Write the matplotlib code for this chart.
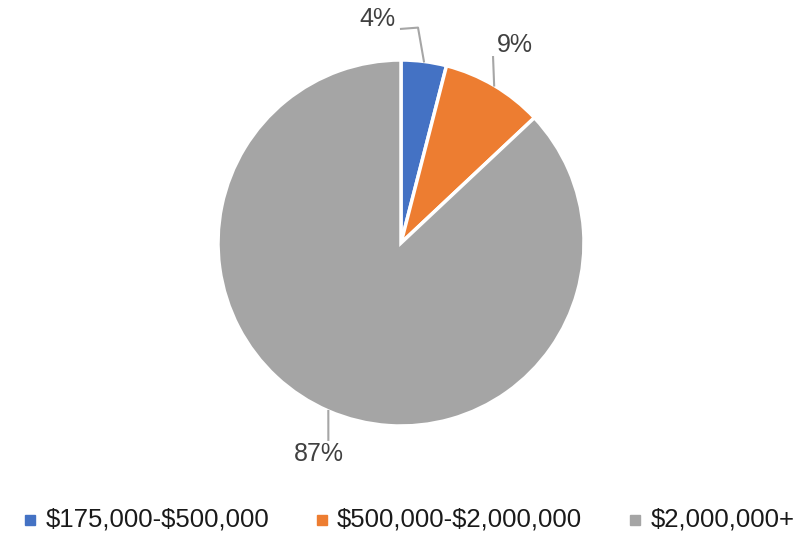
import matplotlib
matplotlib.use("Agg")
import matplotlib.pyplot as plt
import matplotlib.patches as mpatches
import numpy as np

categories = ["$175,000-$500,000", "$500,000-$2,000,000", "$2,000,000+"]
values = [4, 9, 87]
labels = ["4%", "9%", "87%"]
colors = ["#4472C4", "#ED7D31", "#A5A5A5"]

plt.rcParams['font.family'] = ['Liberation Sans', 'DejaVu Sans']
plt.rcParams['text.parse_math'] = False

W, H = 797, 534
fig = plt.figure(figsize=(W / 100, H / 100), dpi=100)
cx, cy, r = 401, 534 - 243, 183
ax = fig.add_axes([(cx - r) / W, (cy - r) / H, 2 * r / W, 2 * r / H])
wedges, _ = ax.pie(values, colors=colors, startangle=90, counterclock=False,
                   wedgeprops=dict(edgecolor="white", linewidth=2.5))
ax.set_xlim(-1, 1)
ax.set_ylim(-1, 1)
ax.set_aspect("equal")
ax.axis("off")

# label layout
text_pos = [(-0.13, 1.225), (0.62, 1.08), (-0.45, -1.155)]
elbows = [[(0.093, 1.177), (0.0, 1.17)], [(0.503, 1.016)], [(-0.397, -1.076)]]
txtcol = "#404040"
for w, lab, tp, el in zip(wedges, labels, text_pos, elbows):
    ang = np.deg2rad((w.theta1 + w.theta2) / 2)
    p0 = (np.cos(ang), np.sin(ang))
    pts = [p0] + el
    xs, ys = zip(*pts)
    ax.plot(xs, ys, color="#A6A6A6", lw=1.5, clip_on=False)
    ax.text(tp[0], tp[1], lab, ha="center", va="center", fontsize=18,
            color=txtcol)

# legend, laid out by hand along the bottom
leg_marker_x = [25, 317, 630]
leg_text_x = [46, 337, 651]
leg_y = 520
msz = 10
for c, l, mx, tx in zip(colors, categories, leg_marker_x, leg_text_x):
    fig.patches.append(mpatches.Rectangle((mx / W, (H - leg_y - msz / 2) / H),
                                          msz / W, msz / H, color=c,
                                          transform=fig.transFigure))
    fig.text(tx / W, (H - leg_y) / H, l, ha="left", va="center",
             fontsize=18.5, color="#1a1a1a")

fig.savefig("out.png", dpi=100)
